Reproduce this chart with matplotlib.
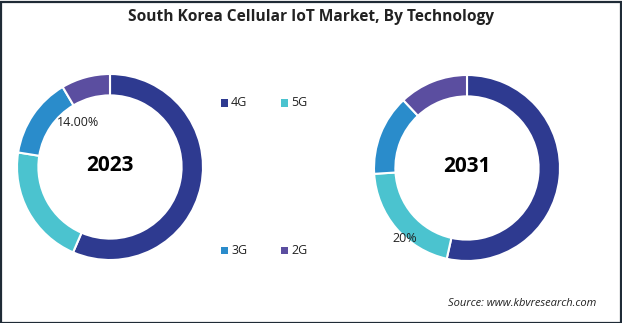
import matplotlib
matplotlib.use("Agg")
import matplotlib.pyplot as plt
from matplotlib.patches import Rectangle

categories = ["4G", "5G", "3G", "2G"]
values_2023 = [56.5, 21, 14, 8.5]
values_2031 = [53.5, 20.5, 14, 12]
colors = ["#2E3A90", "#4BC3CF", "#2A8CCB", "#5B4EA0"]
title = "South Korea Cellular IoT Market, By Technology"
source = "Source: www.kbvresearch.com"

plt.rcParams['font.family'] = ['Open Sans', 'DejaVu Sans']

W, H = 622, 323
fig = plt.figure(figsize=(W / 100, H / 100), dpi=100)
fig.patch.set_facecolor("white")

# border
fig.add_artist(Rectangle((0.5 / W, 0.5 / H), 1 - 2 / W, 1 - 2 / H, transform=fig.transFigure,
                         fill=False, edgecolor="#1F2B36", linewidth=1.6))

def donut(cx, cy, r, vals, year, label_text, label_xy):
    ax = fig.add_axes([(cx - r) / W, (H - cy - r) / H, 2 * r / W, 2 * r / H])
    ax.pie(vals, colors=colors, startangle=90, counterclock=False, radius=1,
           wedgeprops=dict(width=0.23, edgecolor="white", linewidth=1.5))
    ax.set_xlim(-1, 1)
    ax.set_ylim(-1, 1)
    ax.set_aspect("equal")
    ax.axis("off")
    ax.text(0, 0.02, year, ha="center", va="center", fontsize=15, fontweight="bold", color="black")
    ax.text(label_xy[0], label_xy[1], label_text, ha="center", va="center", fontsize=9, color="#222222")

donut(110, 167, 93, values_2023, "2023", f"{values_2023[2]:.2f}%", (-0.34, 0.48))
donut(467, 168, 93, values_2031, "2031", "20%", (-0.67, -0.76))

fig.text(0.5, 1 - 17 / H, title, ha="center", va="center", fontsize=11.2, fontweight="bold", color="#222222")

# legend
leg_pos = [(225, 103), (285, 103), (225, 250), (285, 250)]
for (x, y), c, lab in zip(leg_pos, colors, categories):
    fig.add_artist(Rectangle(((x - 4) / W, (H - y - 3.5) / H), 7 / W, 7 / H,
                             transform=fig.transFigure, facecolor=c, edgecolor="none"))
    fig.text((x + 6) / W, 1 - y / H, lab, ha="left", va="center", fontsize=9, color="#222222")

fig.text(596 / W, 1 - 304 / H, source, ha="right", va="center", fontsize=8,
         style="italic", color="#222222")

fig.savefig("out.png", dpi=100)
